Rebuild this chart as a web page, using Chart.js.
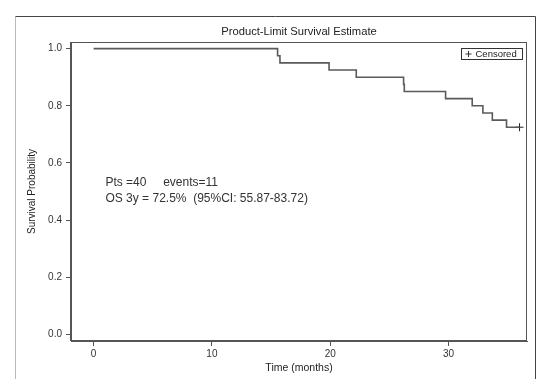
<!DOCTYPE html>
<html>
<head>
<meta charset="utf-8">
<title>Product-Limit Survival Estimate</title>
<script src="https://cdn.jsdelivr.net/npm/chart.js"></script>
<style>
  html, body { margin: 0; padding: 0; background: #fff; }
  #wrap { width: 541px; height: 379px; }
</style>
</head>
<body>
<div id="wrap"><canvas id="km" width="541" height="379"></canvas></div>
<script>
// Kaplan-Meier curve (time in months, survival)
const timeMonths   = [0, 15.55, 15.75, 19.9, 22.2, 26.2, 26.26, 29.75, 32.0, 32.9, 33.7, 34.9, 36.0];
const survivalProb = [1.0, 0.975, 0.95, 0.925, 0.9, 0.875, 0.85, 0.825, 0.8, 0.775, 0.75, 0.725, 0.725];

// censored observations
const censoredTimes = [36.0];
const censoredProb  = [0.725];

// axis ticks
const xTicks = [0, 10, 20, 30];
const yTicks = [0.0, 0.2, 0.4, 0.6, 0.8, 1.0];

const noteLines = ['Pts =40     events=11', 'OS 3y = 72.5%  (95%CI: 55.87-83.72)'];

const FONT = '"Liberation Sans", Arial, sans-serif';
const AXIS_COLOR = '#555';

// outer frame, plot border, title, legend box and the note text
const decorations = {
    id: 'decorations',
    beforeDraw(chart) {
        const ctx = chart.ctx;
        ctx.save();
        ctx.fillStyle = '#fff';
        ctx.fillRect(0, 0, chart.width, chart.height);
        // outer frame
        ctx.lineWidth = 1;
        ctx.strokeStyle = '#bbb';
        ctx.beginPath();
        ctx.moveTo(15.5, chart.height);
        ctx.lineTo(15.5, 16.5);
        ctx.stroke();
        ctx.strokeStyle = '#444';
        ctx.beginPath();
        ctx.moveTo(15.5, 16.5);
        ctx.lineTo(535.5, 16.5);
        ctx.lineTo(535.5, chart.height);
        ctx.stroke();
        ctx.restore();
    },
    afterDraw(chart) {
        const ctx = chart.ctx;
        const a = chart.chartArea;
        const xs = chart.scales.x;
        const ys = chart.scales.y;
        ctx.save();
        // plot border
        ctx.strokeStyle = AXIS_COLOR;
        ctx.lineWidth = 1;
        ctx.strokeRect(Math.round(a.left) - 0.5, Math.round(a.top) + 0.5,
                       Math.round(a.right - a.left), Math.round(a.bottom - a.top) - 1);

        // title centred over the plot area
        ctx.fillStyle = '#222';
        ctx.font = '11.2px ' + FONT;
        ctx.textAlign = 'center';
        ctx.textBaseline = 'middle';
        ctx.fillText('Product-Limit Survival Estimate', (a.left + a.right) / 2, 31.5);

        // legend box
        const bw = 61, bh = 11;
        const bx = Math.round(a.right) - 66 + 0.5, by = Math.round(a.top) + 6.5;
        ctx.strokeStyle = '#333';
        ctx.strokeRect(bx, by, bw, bh);
        ctx.beginPath();
        ctx.moveTo(bx + 4, by + bh / 2);
        ctx.lineTo(bx + 10, by + bh / 2);
        ctx.moveTo(bx + 7, by + 2.5);
        ctx.lineTo(bx + 7, by + bh - 2.5);
        ctx.stroke();
        ctx.fillStyle = '#222';
        ctx.font = '9.5px ' + FONT;
        ctx.textAlign = 'left';
        ctx.fillText('Censored', bx + 14, by + bh / 2 + 0.5);

        // note text
        ctx.fillStyle = '#333';
        ctx.font = '12px ' + FONT;
        const nx = xs.getPixelForValue(1);
        ctx.fillText(noteLines[0], nx, ys.getPixelForValue(0.53));
        ctx.fillText(noteLines[1], nx, ys.getPixelForValue(0.475));
        ctx.restore();
    }
};

const ctx = document.getElementById('km').getContext('2d');

new Chart(ctx, {
    type: 'line',
    data: {
        datasets: [{
            label: 'Survival',
            data: timeMonths.map((t, i) => ({ x: t, y: survivalProb[i] })),
            stepped: true,
            borderColor: '#5a5a5a',
            borderWidth: 1.6,
            pointRadius: 0,
            fill: false
        }, {
            label: 'Censored',
            data: censoredTimes.map((t, i) => ({ x: t, y: censoredProb[i] })),
            showLine: false,
            pointStyle: 'cross',
            pointRadius: 4,
            borderColor: '#222',
            borderWidth: 1
        }]
    },
    options: {
        responsive: false,
        animation: false,
        layout: { padding: { left: 0, top: 42, right: 14, bottom: 0 } },
        plugins: {
            legend: { display: false },
            title: { display: false },
            tooltip: { enabled: false }
        },
        scales: {
            x: {
                type: 'linear',
                min: -1.91,
                max: 36.63,
                afterBuildTicks: s => { s.ticks = xTicks.map(v => ({ value: v })); },
                afterFit: s => { s.height = 38; },
                grid: { drawOnChartArea: false, drawTicks: true, tickLength: 5, color: AXIS_COLOR },
                border: { display: true, color: AXIS_COLOR },
                ticks: { padding: 2, color: '#333', font: { family: FONT, size: 10 }, callback: v => String(v) },
                title: { display: true, text: 'Time (months)', color: '#222', padding: 4.5,
                         font: { family: FONT, size: 10.5 } }
            },
            y: {
                type: 'linear',
                min: -0.0224,
                max: 1.023,
                afterBuildTicks: s => { s.ticks = yTicks.map(v => ({ value: v })); },
                afterFit: s => { s.width = 71; },
                grid: { drawOnChartArea: false, drawTicks: true, tickLength: 5, color: AXIS_COLOR },
                border: { display: true, color: AXIS_COLOR },
                ticks: { padding: 4, color: '#333', font: { family: FONT, size: 10 }, callback: v => v.toFixed(1) },
                title: { display: true, text: 'Survival Probability', color: '#222', padding: 26,
                         font: { family: FONT, size: 10 } }
            }
        }
    },
    plugins: [decorations]
});
</script>
</body>
</html>
